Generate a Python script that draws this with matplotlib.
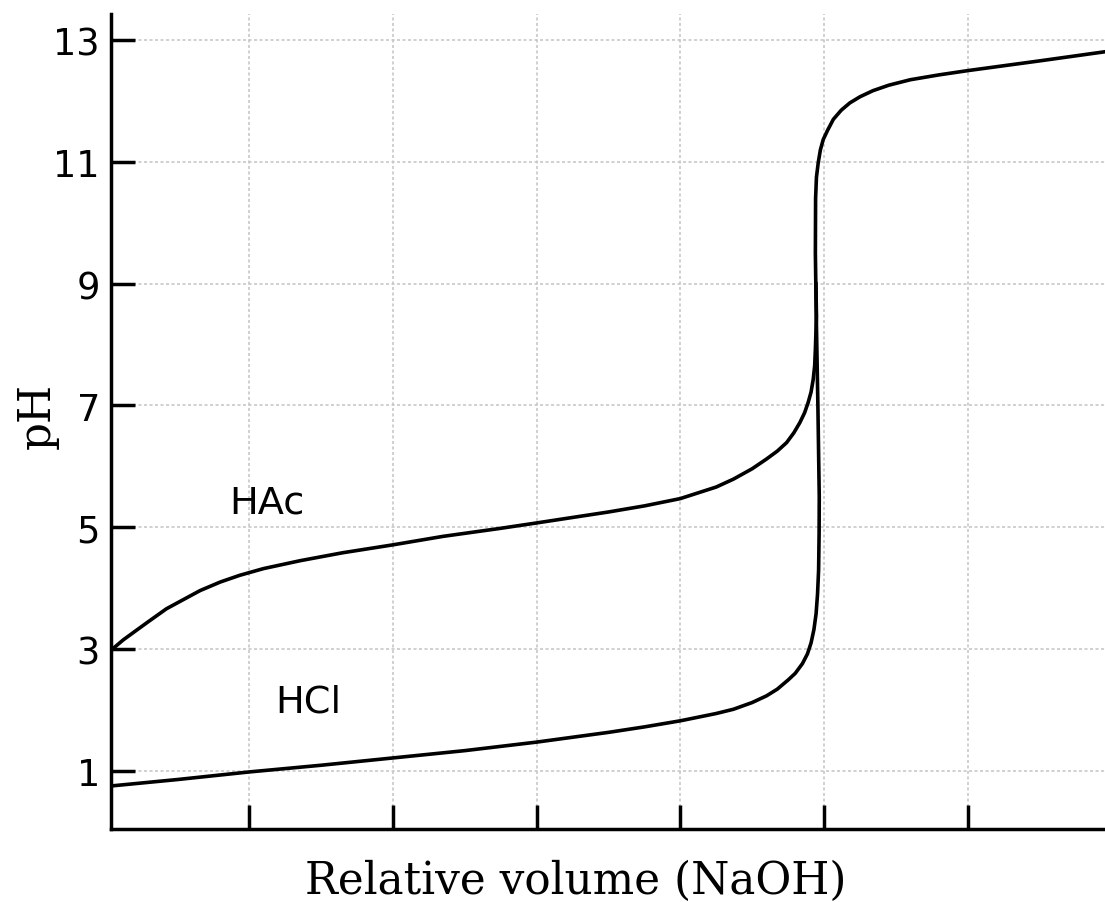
import numpy as np
import matplotlib
matplotlib.use("Agg")
import matplotlib.pyplot as plt

# values
hcl_volume = [0.008, 0.1, 0.2, 0.3, 0.4, 0.5, 0.6, 0.7, 0.75, 0.8, 0.85, 0.874,
              0.9, 0.92, 0.935, 0.95, 0.96, 0.97, 0.977, 0.982, 0.986, 0.989,
              0.991, 0.9925, 0.9932, 0.9934, 0.9915, 0.9892, 0.988, 0.9883,
              0.9895, 0.992, 0.995, 0.999, 1.005, 1.013, 1.024, 1.036, 1.05,
              1.068, 1.09, 1.12, 1.16, 1.2, 1.3, 1.391]
hcl_ph = [0.75, 0.855, 0.98, 1.09, 1.21, 1.33, 1.47, 1.63, 1.72, 1.82, 1.94, 2.01,
          2.12, 2.23, 2.34, 2.49, 2.60, 2.76, 2.92, 3.10, 3.32, 3.58,
          3.9, 4.3, 4.9, 5.5, 7.0, 8.5, 9.5, 10.4,
          10.75, 10.99, 11.2, 11.37, 11.52, 11.70, 11.85, 11.97, 12.07,
          12.17, 12.26, 12.35, 12.43, 12.50, 12.66, 12.81]

hac_volume = [0.011, 0.025, 0.039, 0.06, 0.085, 0.11, 0.132, 0.16, 0.187, 0.22,
              0.271, 0.33, 0.4, 0.47, 0.549, 0.6, 0.65, 0.7, 0.75, 0.8, 0.85,
              0.874, 0.9, 0.92, 0.935, 0.948, 0.958, 0.9665, 0.973, 0.978,
              0.982, 0.985, 0.987, 0.988, 0.9895, 0.9888]
hac_ph = [3.01, 3.15, 3.27, 3.45, 3.66, 3.82, 3.96, 4.10, 4.21, 4.32,
          4.45, 4.58, 4.71, 4.85, 4.98, 5.07, 5.16, 5.25, 5.35, 5.47, 5.66,
          5.79, 5.96, 6.12, 6.25, 6.39, 6.55, 6.72, 6.88, 7.05,
          7.22, 7.43, 7.65, 7.92, 8.47, 9.0]

x_ticks = [0.2, 0.4, 0.6, 0.8, 1.0, 1.2]
y_ticks = [1, 3, 5, 7, 9, 11, 13]

W, H = 1105, 903
fig = plt.figure(figsize=(W / 100, H / 100), dpi=100)
ax = fig.add_axes([111 / W, 1 - 830 / H, (W - 111) / W, (830 - 15) / H])

ax.plot(hcl_volume, hcl_ph, color="black", lw=2.6, solid_joinstyle="round")
ax.plot(hac_volume, hac_ph, color="black", lw=2.6, solid_joinstyle="round")

ax.set_xlim(0.0079, 1.391)
ax.set_ylim(0.043, 13.43)
ax.set_xticks(x_ticks)
ax.set_xticklabels([])
ax.set_yticks(y_ticks)
ax.set_yticklabels([str(t) for t in y_ticks], fontsize=26.5, family="DejaVu Sans")
ax.tick_params(axis="both", direction="in", length=17, width=2.5, color="black")
ax.tick_params(axis="y", pad=8)

for s in ["top", "right"]:
    ax.spines[s].set_visible(False)
for s in ["left", "bottom"]:
    ax.spines[s].set_linewidth(2.5)

ax.grid(True, color="#c4c4c4", linestyle=(0, (2.0, 1.6)), linewidth=1.1)
ax.set_axisbelow(True)

ax.text(0.225, 5.41, "HAc", fontsize=27.5, ha="center", va="center", family="DejaVu Sans")
ax.text(0.282, 2.14, "HCl", fontsize=27.5, ha="center", va="center", family="DejaVu Sans")

fig.text(576 / W, 1 - 894 / H, "Relative volume (NaOH)", fontsize=31.5,
         family="DejaVu Serif", ha="center", va="baseline")
fig.text(37 / W, 1 - 416 / H, "pH", fontsize=31.5, family="DejaVu Serif",
         ha="center", va="center", rotation=90)

fig.savefig("out.png", dpi=100)
plt.close(fig)
